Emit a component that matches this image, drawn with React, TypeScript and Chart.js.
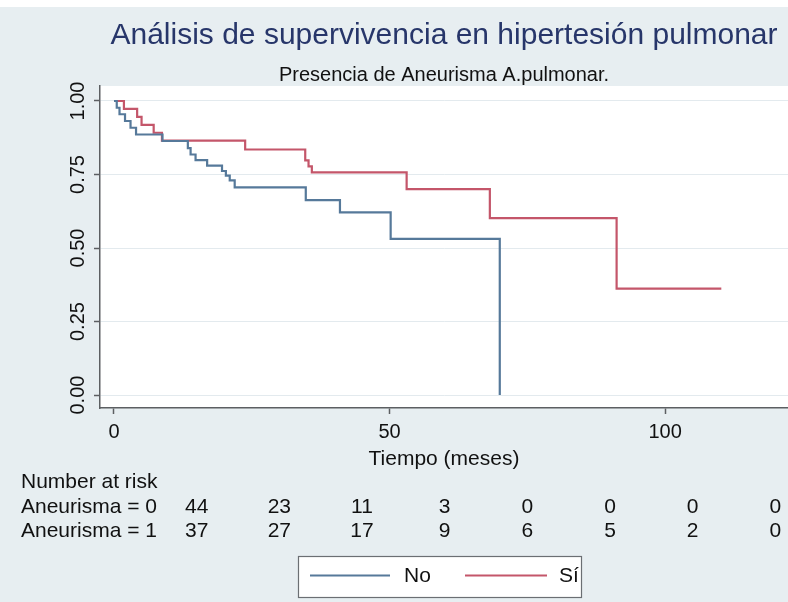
import React, { useEffect, useRef } from "react";
import { Chart, registerables } from "chart.js";

Chart.register(...registerables);

// ---- Data ----
const TITLE = "Análisis de supervivencia en hipertesión pulmonar";
const SUBTITLE = "Presencia de Aneurisma A.pulmonar.";
const X_TITLE = "Tiempo (meses)";

// Kaplan-Meier steps, group "No" (Aneurisma = 0)
const noTimes = [0, 0.5, 1, 2, 3, 4, 8.8, 13.4, 13.9, 14.8, 16.9, 19.6, 20.3, 21.0, 21.9, 34.8, 41.0, 50.2, 70.0];
const noSurv = [1, 0.977, 0.955, 0.932, 0.909, 0.886, 0.864, 0.840, 0.818, 0.799, 0.780, 0.762, 0.746, 0.730, 0.706, 0.663, 0.621, 0.531, 0];

// Kaplan-Meier steps, group "Sí" (Aneurisma = 1)
const siTimes = [0, 1.8, 4.2, 5.0, 7.2, 8.7, 23.8, 34.7, 35.3, 35.9, 53.1, 68.2, 91.2, 110.2];
const siSurv = [1, 0.973, 0.946, 0.919, 0.892, 0.865, 0.835, 0.798, 0.778, 0.757, 0.700, 0.602, 0.362, 0.362];

const xTicks = [0, 50, 100];
const yTicks = [0, 0.25, 0.5, 0.75, 1];
const yTickLabels = ["0.00", "0.25", "0.50", "0.75", "1.00"];

const riskHeader = "Number at risk";
const riskRowLabels = ["Aneurisma = 0", "Aneurisma = 1"];
const riskColumnsAt = [15, 30, 45, 60, 75, 90, 105, 120];
const riskNo = [44, 23, 11, 3, 0, 0, 0, 0];
const riskSi = [37, 27, 17, 9, 6, 5, 2, 0];

const legendLabels = ["No", "Sí"];

// ---- Styles ----
const BLUE = "#56799a";
const RED = "#c4566a";
const BG = "#e7eef1";
const AXIS = "#5c5f62";
const GRID = "#e3eaee";
const TITLE_COLOR = "#27366a";
const FONT = "'Liberation Sans', Arial, Helvetica, sans-serif";

export default function App() {
  const ref = useRef<HTMLCanvasElement | null>(null);

  useEffect(() => {
    document.body.style.margin = "0";
    document.body.style.overflow = "hidden";
    const canvas = ref.current;
    if (!canvas) return;

    const bgPlugin = {
      id: "bgPlugin",
      beforeDraw(chart: any) {
        const { ctx, chartArea, width, height } = chart;
        ctx.save();
        ctx.fillStyle = BG;
        ctx.fillRect(0, 0, width, height);
        ctx.fillStyle = "#ffffff";
        ctx.fillRect(0, 0, width, 7);
        ctx.fillRect(chartArea.left, chartArea.top, chartArea.right - chartArea.left, chartArea.bottom - chartArea.top);
        ctx.restore();
      },
    };

    const textPlugin = {
      id: "textPlugin",
      afterDraw(chart: any) {
        const { ctx, chartArea } = chart;
        const xs = chart.scales.x;
        const ys = chart.scales.y;
        const cx = (chartArea.left + chartArea.right) / 2;
        ctx.save();
        ctx.textAlign = "center";
        ctx.textBaseline = "alphabetic";

        // Title
        ctx.fillStyle = TITLE_COLOR;
        ctx.font = `30px ${FONT}`;
        ctx.fillText(TITLE, cx, 44);
        // Subtitle
        ctx.fillStyle = "#111";
        ctx.font = `20px ${FONT}`;
        ctx.fillText(SUBTITLE, cx, 81);

        // Y tick labels (rotated)
        ctx.font = `20px ${FONT}`;
        ctx.textBaseline = "middle";
        yTicks.forEach((v, i) => {
          const py = ys.getPixelForValue(v);
          ctx.save();
          ctx.translate(78, py);
          ctx.rotate(-Math.PI / 2);
          ctx.fillText(yTickLabels[i], 0, 0);
          ctx.restore();
        });

        // X tick labels
        xTicks.forEach((v) => {
          ctx.fillText(String(v), xs.getPixelForValue(v), 432);
        });
        // X title
        ctx.font = `21px ${FONT}`;
        ctx.fillText(X_TITLE, cx, 459);

        // Risk table
        ctx.textAlign = "left";
        ctx.fillText(riskHeader, 21, 482);
        ctx.fillText(riskRowLabels[0], 21, 507);
        ctx.fillText(riskRowLabels[1], 21, 531);
        ctx.textAlign = "center";
        riskColumnsAt.forEach((t, i) => {
          const px = xs.getPixelForValue(t);
          ctx.fillText(String(riskNo[i]), px, 507);
          ctx.fillText(String(riskSi[i]), px, 531);
        });

        // Legend
        const lx = 298, ly = 556, lw = 283, lh = 41;
        ctx.fillStyle = "#ffffff";
        ctx.fillRect(lx, ly, lw, lh);
        ctx.strokeStyle = "#6b6f73";
        ctx.lineWidth = 1.2;
        ctx.strokeRect(lx + 0.5, ly + 0.5, lw, lh);
        const midY = ly + lh / 2 - 1;
        ctx.lineWidth = 2;
        ctx.strokeStyle = BLUE;
        ctx.beginPath();
        ctx.moveTo(310, midY);
        ctx.lineTo(390, midY);
        ctx.stroke();
        ctx.strokeStyle = RED;
        ctx.beginPath();
        ctx.moveTo(465, midY);
        ctx.lineTo(547, midY);
        ctx.stroke();
        ctx.fillStyle = "#111";
        ctx.textAlign = "left";
        ctx.font = `21px ${FONT}`;
        ctx.fillText(legendLabels[0], 404, midY + 1);
        ctx.fillText(legendLabels[1], 559, midY + 1);
        ctx.restore();
      },
    };

    const chart = new Chart(canvas, {
      type: "line",
      data: {
        datasets: [
          {
            label: legendLabels[0],
            data: noTimes.map((t, i) => ({ x: t, y: noSurv[i] })),
            stepped: "before",
            borderColor: BLUE,
            borderWidth: 2.2,
            pointRadius: 0,
            fill: false,
          },
          {
            label: legendLabels[1],
            data: siTimes.map((t, i) => ({ x: t, y: siSurv[i] })),
            stepped: "before",
            borderColor: RED,
            borderWidth: 2.2,
            pointRadius: 0,
            fill: false,
          },
        ],
      },
      options: {
        animation: false,
        responsive: false,
        maintainAspectRatio: false,
        events: [],
        layout: { padding: { left: 0, right: 0, top: 86, bottom: 188 } },
        plugins: {
          legend: { display: false },
          title: { display: false },
          tooltip: { enabled: false },
        },
        scales: {
          x: {
            type: "linear",
            min: -2.54,
            max: 122.3,
            afterBuildTicks: (s: any) => {
              s.ticks = xTicks.map((v) => ({ value: v }));
            },
            afterFit: (s: any) => {
              s.height = 6;
            },
            ticks: { display: false },
            grid: {
              drawOnChartArea: false,
              drawTicks: true,
              tickLength: 6,
              tickColor: AXIS,
              tickWidth: 1.5,
            },
            border: { display: true, color: AXIS, width: 1.5 },
          },
          y: {
            type: "linear",
            min: -0.044,
            max: 1.051,
            afterBuildTicks: (s: any) => {
              s.ticks = yTicks.map((v) => ({ value: v }));
            },
            afterFit: (s: any) => {
              s.width = 100;
            },
            ticks: { display: false },
            grid: {
              color: GRID,
              lineWidth: 1,
              drawTicks: true,
              tickLength: 6,
              tickColor: AXIS,
              tickWidth: 1.5,
            },
            border: { display: true, color: AXIS, width: 1.5 },
          },
        },
      },
      plugins: [bgPlugin, textPlugin],
    } as any);

    return () => chart.destroy();
  }, []);

  return <canvas ref={ref} width={788} height={602} style={{ display: "block" }} />;
}
